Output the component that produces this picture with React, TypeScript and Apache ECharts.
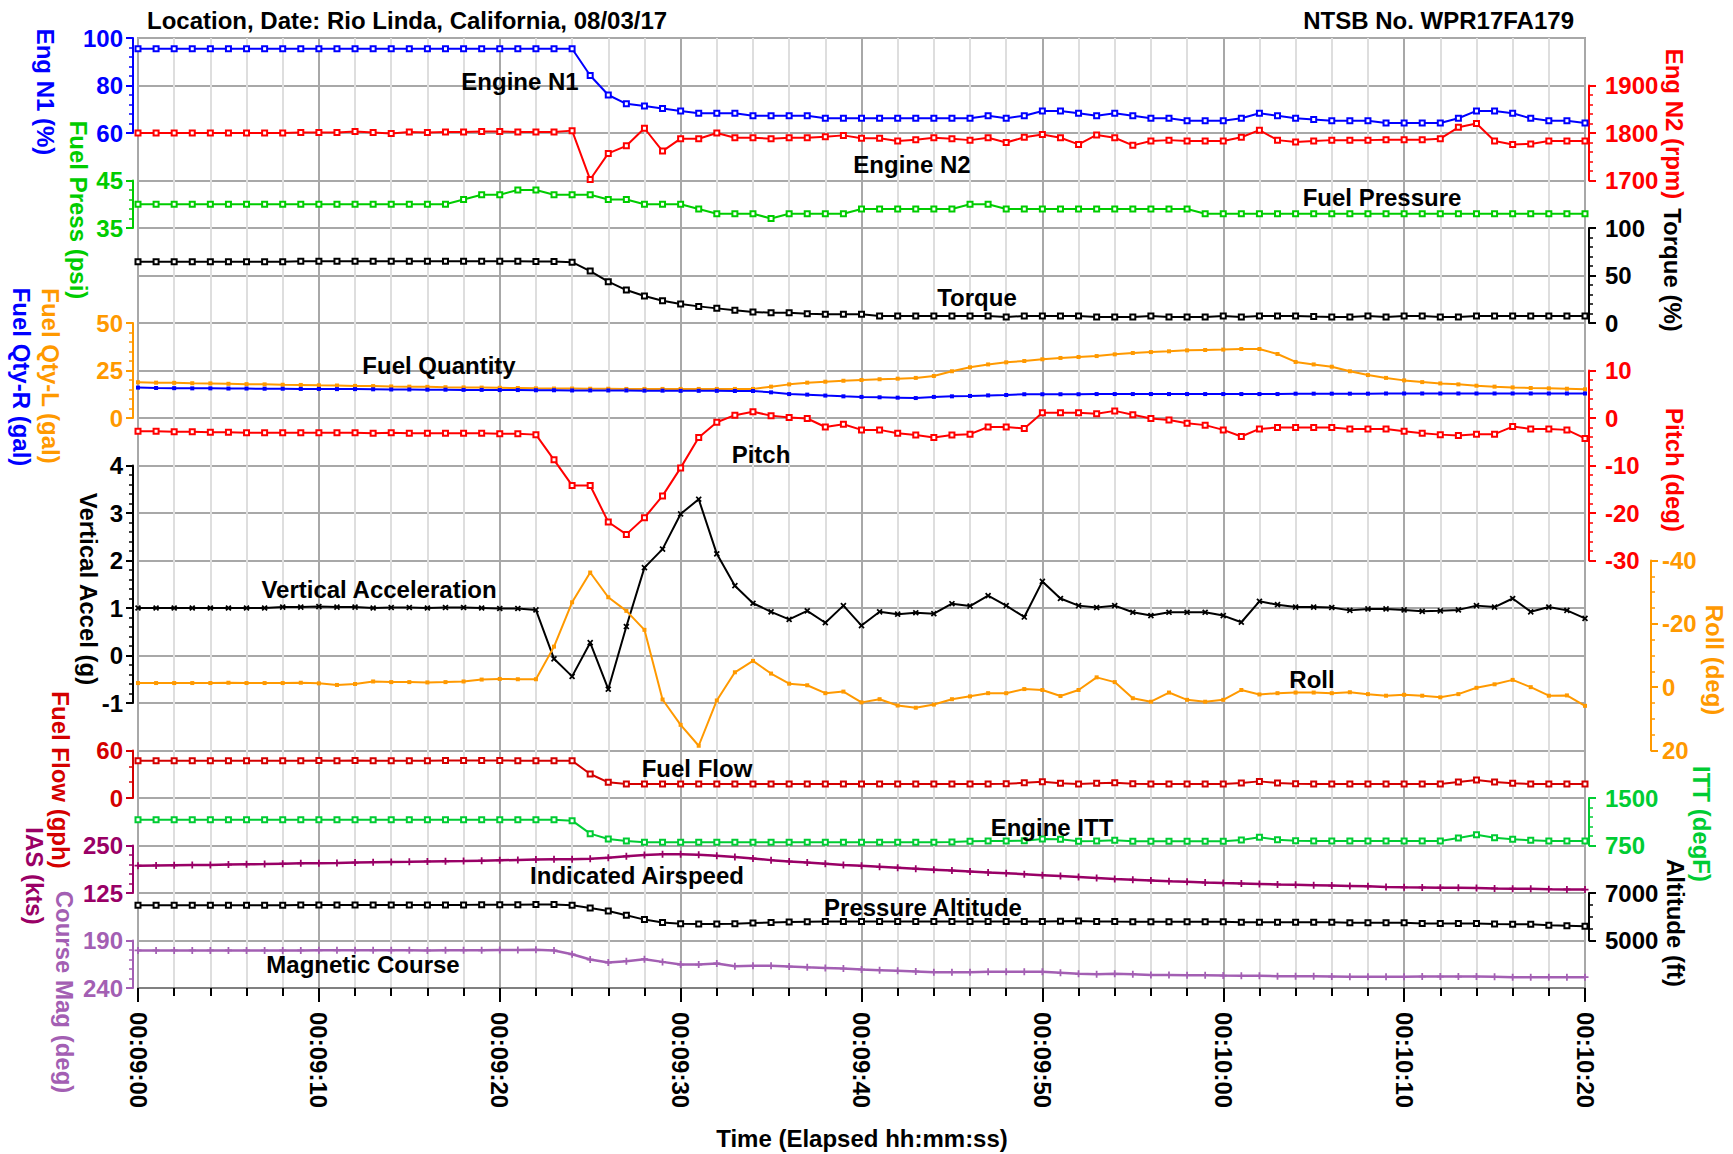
import React, { useEffect, useRef } from "react";
import * as echarts from "echarts";

const FONT = "'Liberation Sans', Arial, Helvetica, sans-serif";

// elapsed seconds after 00:09:00
const elapsedSeconds = [
  0, 1, 2, 3, 4, 5, 6, 7, 8, 9,
  10, 11, 12, 13, 14, 15, 16, 17, 18, 19,
  20, 21, 22, 23, 24, 25, 26, 27, 28, 29,
  30, 31, 32, 33, 34, 35, 36, 37, 38, 39,
  40, 41, 42, 43, 44, 45, 46, 47, 48, 49,
  50, 51, 52, 53, 54, 55, 56, 57, 58, 59,
  60, 61, 62, 63, 64, 65, 66, 67, 68, 69,
  70, 71, 72, 73, 74, 75, 76, 77, 78, 79,
  80,
];
const timeTickLabels = ["00:09:00", "00:09:10", "00:09:20", "00:09:30", "00:09:40", "00:09:50", "00:10:00", "00:10:10", "00:10:20"];

const engN1 = [
  95.5, 95.5, 95.5, 95.5, 95.5, 95.5, 95.5, 95.5, 95.5, 95.5,
  95.5, 95.5, 95.5, 95.5, 95.5, 95.5, 95.5, 95.5, 95.5, 95.5,
  95.5, 95.5, 95.5, 95.5, 95.5, 84.2, 76.0, 72.3, 71.4, 70.3,
  69.3, 68.3, 68.3, 68.3, 67.3, 67.3, 67.3, 67.3, 66.2, 66.2,
  66.2, 66.2, 66.2, 66.2, 66.2, 66.2, 66.2, 67.3, 66.2, 67.3,
  69.3, 69.3, 68.3, 67.3, 68.3, 67.3, 66.2, 66.2, 65.2, 65.2,
  65.2, 66.2, 68.3, 67.3, 66.2, 65.7, 65.2, 65.2, 65.2, 64.2,
  64.2, 64.2, 64.2, 66.2, 69.3, 69.3, 68.3, 66.2, 65.2, 65.2,
  64.2,
];
const engN2 = [
  1800, 1800, 1800, 1800, 1800, 1800, 1800, 1800, 1800, 1801,
  1801, 1801, 1803, 1801, 1799, 1802, 1801, 1802, 1802, 1803,
  1803, 1802, 1802, 1802, 1805, 1702, 1757, 1773, 1810, 1762,
  1788, 1788, 1800, 1790, 1790, 1788, 1790, 1790, 1792, 1795,
  1789, 1789, 1783, 1786, 1790, 1788, 1785, 1790, 1780, 1791,
  1797, 1790, 1776, 1796, 1790, 1774, 1783, 1785, 1783, 1783,
  1783, 1791, 1806, 1785, 1781, 1783, 1785, 1785, 1785, 1786,
  1786, 1786, 1788, 1812, 1820, 1783, 1776, 1777, 1783, 1783,
  1783,
];
const fuelPress = [
  40, 40, 40, 40, 40, 40, 40, 40, 40, 40,
  40, 40, 40, 40, 40, 40, 40, 40, 41, 42,
  42, 43, 43, 42, 42, 42, 41, 41, 40, 40,
  40, 39, 38, 38, 38, 37, 38, 38, 38, 38,
  39, 39, 39, 39, 39, 39, 40, 40, 39, 39,
  39, 39, 39, 39, 39, 39, 39, 39, 39, 38,
  38, 38, 38, 38, 38, 38, 38, 38, 38, 38,
  38, 38, 38, 38, 38, 38, 38, 38, 38, 38,
  38,
];
const torque = [
  64.5, 64.5, 64.5, 64.5, 64.5, 64.5, 64.5, 64.5, 64.5, 65.0,
  65.0, 65.0, 65.0, 65.0, 65.0, 65.0, 65.0, 65.0, 65.0, 65.0,
  65.0, 65.0, 64.8, 64.8, 64.0, 54.7, 43.5, 34.7, 28.4, 23.5,
  20.0, 17.5, 15.4, 13.3, 11.6, 10.9, 10.9, 9.8, 9.1, 9.1,
  9.1, 7.4, 7.4, 7.4, 7.4, 7.4, 7.4, 7.4, 6.3, 7.4,
  7.4, 7.4, 7.4, 6.3, 6.3, 6.3, 7.4, 6.3, 6.3, 6.3,
  7.4, 6.3, 7.4, 7.4, 7.4, 6.8, 6.3, 6.3, 7.4, 6.3,
  7.4, 7.4, 6.3, 6.3, 7.4, 7.4, 7.4, 7.4, 7.4, 7.4,
  7.4,
];
const fuelQtyL = [
  18.8, 18.6, 18.5, 18.3, 18.2, 18.0, 17.8, 17.7, 17.5, 17.4,
  17.2, 17.1, 16.9, 16.8, 16.6, 16.5, 16.4, 16.2, 16.1, 16.0,
  15.9, 15.8, 15.6, 15.5, 15.5, 15.4, 15.4, 15.3, 15.3, 15.3,
  15.3, 15.3, 15.3, 15.3, 15.3, 16.5, 17.7, 18.6, 19.1, 19.6,
  20.0, 20.4, 20.7, 21.1, 22.1, 24.6, 26.7, 28.2, 29.3, 30.0,
  30.9, 31.6, 32.1, 32.6, 33.5, 34.2, 34.7, 35.1, 35.6, 35.8,
  36.0, 36.3, 36.3, 33.7, 29.5, 28.2, 27.0, 24.6, 22.6, 21.1,
  19.8, 18.9, 18.2, 17.7, 17.0, 16.5, 16.1, 15.8, 15.6, 15.4,
  15.1,
];
const fuelQtyR = [
  16.0, 15.8, 15.7, 15.6, 15.6, 15.5, 15.5, 15.4, 15.4, 15.3,
  15.3, 15.2, 15.2, 15.1, 15.0, 15.0, 14.9, 14.9, 14.8, 14.8,
  14.7, 14.7, 14.6, 14.6, 14.5, 14.5, 14.5, 14.5, 14.4, 14.4,
  14.3, 14.3, 14.3, 14.2, 14.2, 13.5, 12.6, 12.3, 11.8, 11.4,
  11.1, 10.9, 10.7, 10.5, 11.1, 11.4, 11.6, 11.9, 12.1, 12.5,
  12.5, 12.5, 12.5, 12.6, 12.6, 12.6, 12.6, 12.6, 12.6, 12.6,
  12.6, 12.6, 12.6, 12.6, 12.8, 12.8, 12.8, 12.8, 12.8, 12.9,
  12.9, 12.9, 12.9, 12.9, 12.9, 12.9, 12.9, 12.9, 12.9, 12.9,
  12.9,
];
const pitch = [
  -2.8, -2.8, -2.9, -2.9, -3.0, -3.0, -3.1, -3.1, -3.1, -3.1,
  -3.1, -3.1, -3.1, -3.2, -3.1, -3.2, -3.2, -3.2, -3.2, -3.2,
  -3.3, -3.3, -3.5, -8.8, -14.2, -14.2, -21.9, -24.5, -21.0, -16.4,
  -10.5, -4.1, -0.9, 0.6, 1.3, 0.5, 0.1, -0.1, -1.9, -1.3,
  -2.5, -2.5, -3.2, -3.6, -4.1, -3.6, -3.4, -1.9, -1.9, -2.2,
  1.1, 1.1, 1.1, 0.9, 1.5, 0.7, -0.1, -0.4, -1.1, -1.5,
  -2.5, -3.9, -2.3, -2.0, -2.0, -2.0, -2.0, -2.3, -2.3, -2.3,
  -2.8, -3.2, -3.5, -3.7, -3.4, -3.4, -1.8, -2.3, -2.3, -2.5,
  -4.3,
];
const vertAccel = [
  1.0, 1.0, 1.0, 1.0, 1.0, 1.0, 1.0, 1.0, 1.02, 1.02,
  1.03, 1.02, 1.02, 1.0, 1.01, 1.01, 1.0, 1.01, 1.01, 1.0,
  0.99, 0.99, 0.96, -0.07, -0.44, 0.27, -0.71, 0.61, 1.85, 2.24,
  2.98, 3.29, 2.14, 1.47, 1.1, 0.92, 0.76, 0.94, 0.69, 1.05,
  0.63, 0.92, 0.87, 0.9, 0.88, 1.09, 1.04, 1.26, 1.05, 0.81,
  1.56, 1.2, 1.05, 1.01, 1.05, 0.91, 0.84, 0.91, 0.91, 0.91,
  0.84, 0.7, 1.14, 1.07, 1.02, 1.02, 1.01, 0.95, 0.98, 0.98,
  0.96, 0.93, 0.94, 0.96, 1.05, 1.02, 1.2, 0.92, 1.02, 0.95,
  0.78,
];
const roll = [
  -1.3, -1.3, -1.3, -1.3, -1.3, -1.4, -1.3, -1.3, -1.3, -1.4,
  -1.2, -0.7, -1.0, -1.8, -1.6, -1.6, -1.5, -1.6, -1.8, -2.4,
  -2.6, -2.5, -2.5, -12.8, -26.8, -36.2, -28.4, -24.1, -18.1, 3.9,
  11.9, 18.5, 4.2, -4.7, -8.3, -4.3, -1.1, -0.6, 1.9, 1.4,
  4.8, 3.8, 5.8, 6.5, 5.5, 3.8, 2.9, 1.9, 1.9, 0.6,
  0.9, 2.8, 0.9, -3.1, -1.6, 3.5, 4.6, 1.7, 4.0, 4.6,
  4.0, 0.9, 2.3, 1.9, 1.7, 1.7, 1.9, 1.6, 2.2, 2.7,
  2.4, 2.7, 3.2, 2.2, 0.2, -0.9, -2.3, 0.0, 2.7, 2.6,
  5.9,
];
const fuelFlow = [
  47.0, 47.0, 47.0, 47.0, 47.0, 47.0, 47.0, 47.0, 47.0, 47.0,
  47.5, 47.0, 47.5, 47.0, 47.0, 47.0, 47.0, 47.5, 47.5, 47.5,
  47.5, 47.0, 47.0, 47.0, 47.0, 30.3, 19.8, 17.7, 17.7, 17.7,
  17.7, 17.7, 17.7, 17.7, 17.7, 17.7, 17.7, 17.7, 17.7, 17.7,
  17.7, 17.7, 17.7, 17.7, 17.7, 17.7, 17.7, 17.7, 18.0, 19.2,
  20.6, 18.6, 17.7, 18.5, 19.4, 18.0, 17.7, 17.7, 17.7, 17.7,
  17.7, 19.0, 21.0, 19.0, 17.9, 17.7, 17.7, 17.7, 17.7, 17.7,
  17.7, 17.7, 17.7, 20.2, 22.7, 20.2, 18.6, 17.7, 17.7, 17.7,
  17.7,
];
const engineItt = [
  1155, 1155, 1155, 1155, 1155, 1155, 1155, 1155, 1155, 1155,
  1155, 1155, 1155, 1155, 1155, 1155, 1155, 1158, 1158, 1158,
  1158, 1158, 1158, 1158, 1142, 937, 853, 821, 800, 800,
  800, 800, 800, 800, 800, 800, 800, 800, 800, 800,
  800, 800, 800, 800, 800, 805, 816, 821, 821, 826,
  853, 847, 816, 821, 832, 816, 816, 816, 816, 816,
  816, 837, 879, 842, 826, 821, 821, 821, 821, 821,
  821, 821, 821, 868, 921, 874, 847, 832, 821, 821,
  821,
];
const airspeed = [
  197, 197.5, 198, 198.5, 199, 200, 200.5, 201, 202, 203,
  203.5, 204, 205, 206, 206.5, 207, 208, 208.5, 209, 210,
  211, 212, 213, 213.5, 214, 215, 218, 221.5, 225, 227,
  227, 225.5, 223, 220, 216, 211.5, 208, 205, 202, 199,
  196.5, 194, 191.5, 189, 186.5, 184, 181.5, 179, 177, 174.5,
  172, 169.5, 167, 164.5, 162, 160, 158, 156, 154.5, 152.5,
  151, 150, 149, 147.5, 146.5, 145.5, 144.5, 143.5, 142.5, 141,
  140, 139.5, 139, 138.5, 138, 137, 136.5, 136, 135, 134.5,
  134,
];
const altitude = [
  6480, 6480, 6480, 6480, 6480, 6480, 6480, 6480, 6480, 6490,
  6490, 6490, 6490, 6490, 6500, 6500, 6500, 6500, 6500, 6510,
  6510, 6510, 6520, 6520, 6480, 6370, 6240, 6060, 5880, 5760,
  5710, 5695, 5695, 5710, 5735, 5760, 5775, 5790, 5800, 5805,
  5805, 5805, 5805, 5805, 5805, 5805, 5805, 5805, 5805, 5805,
  5805, 5815, 5820, 5805, 5795, 5790, 5790, 5790, 5790, 5790,
  5790, 5765, 5765, 5765, 5765, 5765, 5765, 5750, 5750, 5750,
  5750, 5720, 5720, 5720, 5720, 5695, 5680, 5680, 5640, 5625,
  5600,
];
const magCourse = [
  200.5, 200.5, 200.5, 200.5, 200.5, 200.5, 200.5, 200.5, 200.5, 200.5,
  200.3, 200.3, 200.3, 200.3, 200.3, 200.3, 200.5, 200.3, 200.3, 200.3,
  200.0, 200.0, 199.8, 200.5, 204.5, 210.0, 213.2, 211.8, 209.7, 212.5,
  215.3, 215.3, 214.2, 217.0, 216.7, 216.7, 217.4, 218.2, 218.9, 219.6,
  220.5, 221.2, 221.9, 222.6, 223.3, 223.3, 223.3, 223.0, 223.0, 223.0,
  223.0, 224.0, 225.1, 225.5, 225.1, 225.5, 226.2, 226.2, 226.5, 226.5,
  226.9, 227.2, 227.2, 227.6, 227.6, 227.6, 227.9, 228.2, 228.2, 228.2,
  228.2, 227.9, 227.9, 227.9, 227.9, 228.2, 228.6, 228.6, 228.6, 228.6,
  228.6,
];

// colours
const BLUE = "#0000ff";
const RED = "#ff0000";
const GREEN = "#00cc00";
const ORANGE = "#ff9900";
const BLACK = "#000000";
const DARKRED = "#d40000";
const ITTGREEN = "#00cc33";
const PURPLE = "#990066";
const LPURPLE = "#a35fb3";

// layout
const PLOT_LEFT = 138;
const PLOT_TOP = 38;
const PLOT_W = 1447;
const ROW_H = 47.5;
const ROWS = 20;

const PLUS = "path://M3,0H5V3H8V5H5V8H3V5H0V3H3Z";

type Band = {
  key: string; side: "left" | "right"; top: number; bot: number;
  min: number; max: number; interval: number; minor: number; color: string;
  inverse?: boolean; offset?: number; margin?: number;
};

const bands: Band[] = [
  { key: "n1", side: "left", top: 0, bot: 2, min: 60, max: 100, interval: 20, minor: 5, color: BLUE },
  { key: "fp", side: "left", top: 3, bot: 4, min: 35, max: 45, interval: 10, minor: 5, color: GREEN },
  { key: "fq", side: "left", top: 6, bot: 8, min: 0, max: 50, interval: 25, minor: 5, color: ORANGE },
  { key: "va", side: "left", top: 9, bot: 14, min: -1, max: 4, interval: 1, minor: 5, color: BLACK },
  { key: "ff", side: "left", top: 15, bot: 16, min: 0, max: 60, interval: 60, minor: 3, color: DARKRED },
  { key: "ias", side: "left", top: 17, bot: 18, min: 125, max: 250, interval: 125, minor: 5, color: PURPLE },
  { key: "crs", side: "left", top: 19, bot: 20, min: 190, max: 240, interval: 50, minor: 5, color: LPURPLE, inverse: true },
  { key: "n2", side: "right", top: 1, bot: 3, min: 1700, max: 1900, interval: 100, minor: 5, color: RED },
  { key: "tq", side: "right", top: 4, bot: 6, min: 0, max: 100, interval: 50, minor: 5, color: BLACK },
  { key: "pitch", side: "right", top: 7, bot: 11, min: -30, max: 10, interval: 10, minor: 5, color: RED },
  { key: "roll", side: "right", top: 11, bot: 15, min: -40, max: 20, interval: 20, minor: 4, color: ORANGE, inverse: true, offset: 66, margin: 11 },
  { key: "itt", side: "right", top: 16, bot: 17, min: 750, max: 1500, interval: 750, minor: 5, color: ITTGREEN },
  { key: "alt", side: "right", top: 18, bot: 19, min: 5000, max: 7000, interval: 2000, minor: 4, color: BLACK },
];

type Trace = { band: string; data: number[]; color: string; symbol: string; size: number; rotate?: number; width?: number };
const traces: Trace[] = [
  { band: "n1", data: engN1, color: BLUE, symbol: "emptyRect", size: 5 },
  { band: "n2", data: engN2, color: RED, symbol: "emptyRect", size: 5 },
  { band: "fp", data: fuelPress, color: GREEN, symbol: "emptyRect", size: 5 },
  { band: "tq", data: torque, color: BLACK, symbol: "emptyRect", size: 5 },
  { band: "fq", data: fuelQtyL, color: ORANGE, symbol: "rect", size: 4 },
  { band: "fq", data: fuelQtyR, color: BLUE, symbol: "rect", size: 4 },
  { band: "pitch", data: pitch, color: RED, symbol: "emptyRect", size: 5 },
  { band: "va", data: vertAccel, color: BLACK, symbol: PLUS, size: 7, rotate: 45 },
  { band: "roll", data: roll, color: ORANGE, symbol: "rect", size: 4 },
  { band: "ff", data: fuelFlow, color: DARKRED, symbol: "emptyRect", size: 5 },
  { band: "itt", data: engineItt, color: ITTGREEN, symbol: "emptyRect", size: 5 },
  { band: "ias", data: airspeed, color: PURPLE, symbol: PLUS, size: 7, width: 2.5 },
  { band: "alt", data: altitude, color: BLACK, symbol: "emptyRect", size: 5 },
  { band: "crs", data: magCourse, color: LPURPLE, symbol: PLUS, size: 7, width: 2.5 },
];

const panelLabels = [
  { text: "Engine N1", x: 520, y: 81 },
  { text: "Engine N2", x: 912, y: 164 },
  { text: "Fuel Pressure", x: 1382, y: 197 },
  { text: "Torque", x: 977, y: 297 },
  { text: "Fuel Quantity", x: 439, y: 365 },
  { text: "Pitch", x: 761, y: 454 },
  { text: "Vertical Acceleration", x: 379, y: 589 },
  { text: "Roll", x: 1312, y: 679 },
  { text: "Fuel Flow", x: 697, y: 768 },
  { text: "Engine ITT", x: 1052, y: 827 },
  { text: "Indicated Airspeed", x: 637, y: 875 },
  { text: "Pressure Altitude", x: 923, y: 907 },
  { text: "Magnetic Course", x: 363, y: 964 },
];

const axisTitles = [
  { text: "Eng N1 (%)", x: 45, y: 92, color: BLUE },
  { text: "Fuel Press (psi)", x: 78, y: 210, color: GREEN },
  { text: "Fuel Qty-L (gal)", x: 50, y: 376, color: ORANGE },
  { text: "Fuel Qty-R (gal)", x: 21, y: 377, color: BLUE },
  { text: "Vertical Accel (g)", x: 88, y: 589, color: BLACK },
  { text: "Fuel Flow (gph)", x: 60, y: 780, color: DARKRED },
  { text: "IAS (kts)", x: 34, y: 876, color: PURPLE },
  { text: "Course Mag (deg)", x: 64, y: 992, color: LPURPLE },
  { text: "Eng N2 (rpm)", x: 1674, y: 124, color: RED },
  { text: "Torque (%)", x: 1672, y: 270, color: BLACK },
  { text: "Pitch (deg)", x: 1674, y: 470, color: RED },
  { text: "Roll (deg)", x: 1714, y: 660, color: ORANGE },
  { text: "ITT (degF)", x: 1701, y: 824, color: ITTGREEN },
  { text: "Altitude (ft)", x: 1675, y: 923, color: BLACK },
];

function txt(text: string, x: number, y: number, color: string, align = "center", rotation = 0) {
  return {
    type: "text", x, y, rotation, z: 100, silent: true,
    style: { text, fill: color, fontSize: 24, fontWeight: "bold", fontFamily: FONT, align, verticalAlign: "middle" },
  };
}

function buildOption() {
  const grids: any[] = [{
    left: PLOT_LEFT, top: PLOT_TOP, width: PLOT_W, height: ROW_H * ROWS,
    show: true, borderColor: "#a0a0a0", borderWidth: 2, backgroundColor: "#fff",
  }];
  const xAxes: any[] = [{
    gridIndex: 0, type: "value", min: 0, max: 80, interval: 10,
    axisLine: { show: true, onZero: false, lineStyle: { color: "#808080", width: 2 } },
    axisTick: { show: true, length: 14, lineStyle: { color: "#000", width: 2 } },
    minorTick: { show: true, splitNumber: 5, length: 8, lineStyle: { color: "#000", width: 2 } },
    splitLine: { show: true, lineStyle: { color: "#a8a8a8", width: 2 } },
    minorSplitLine: { show: true, lineStyle: { color: "#dedede", width: 2 } },
    axisLabel: {
      rotate: -90, margin: 24, fontSize: 24, fontWeight: "bold", fontFamily: FONT, color: "#000",
      formatter: (v: number) => timeTickLabels[Math.round(v / 10)] ?? "",
    },
  }];
  const yAxes: any[] = [{
    gridIndex: 0, type: "value", min: 0, max: ROWS, interval: 1,
    axisLine: { show: false }, axisTick: { show: false }, axisLabel: { show: false },
    splitLine: { show: true, lineStyle: { color: "#a8a8a8", width: 2 } },
  }];

  bands.forEach((b, i) => {
    const gi = i + 1;
    grids.push({ left: PLOT_LEFT, width: PLOT_W, top: PLOT_TOP + ROW_H * b.top, height: ROW_H * (b.bot - b.top) });
    xAxes.push({ gridIndex: gi, type: "value", min: 0, max: 80, show: false });
    yAxes.push({
      gridIndex: gi, type: "value", position: b.side, offset: b.offset ?? (b.side === "left" ? 5 : 4),
      min: b.min, max: b.max, interval: b.interval, inverse: !!b.inverse,
      axisLine: { show: true, onZero: false, lineStyle: { color: b.color, width: 2 } },
      axisTick: { show: true, length: 7, lineStyle: { color: b.color, width: 2 } },
      minorTick: { show: true, splitNumber: b.minor, length: 4, lineStyle: { color: b.color, width: 1.5 } },
      splitLine: { show: false },
      axisLabel: {
        color: b.color, fontSize: 24, fontWeight: "bold", fontFamily: FONT,
        margin: b.margin ?? (b.side === "left" ? 10 : 16),
        formatter: (v: number) => String(v),
      },
    });
  });

  const series = traces.map((t) => {
    const idx = bands.findIndex((b) => b.key === t.band) + 1;
    const empty = t.symbol.startsWith("empty");
    return {
      type: "line", xAxisIndex: idx, yAxisIndex: idx,
      data: elapsedSeconds.map((s, i) => [s, t.data[i]]),
      symbol: t.symbol, symbolSize: t.size, symbolRotate: t.rotate ?? 0, showSymbol: true,
      lineStyle: { color: t.color, width: t.width ?? 2 },
      itemStyle: { color: t.color, borderColor: t.color, borderWidth: empty ? 1.2 : 0 },
      z: 3, silent: true, clip: false,
    };
  });

  const graphics: any[] = [
    txt("Location, Date: Rio Linda, California, 08/03/17", 147, 20, "#000", "left"),
    txt("NTSB No. WPR17FA179", 1574, 20, "#000", "right"),
    txt("Time (Elapsed hh:mm:ss)", 862, 1138, "#000"),
    ...panelLabels.map((p) => txt(p.text, p.x, p.y, "#000")),
    ...axisTitles.map((a) => txt(a.text, a.x, a.y, a.color, "center", -Math.PI / 2)),
  ];

  return {
    animation: false,
    backgroundColor: "#ffffff",
    grid: grids,
    xAxis: xAxes,
    yAxis: yAxes,
    series,
    graphic: { elements: graphics },
  };
}

export default function App() {
  const ref = useRef<HTMLDivElement>(null);
  useEffect(() => {
    if (!ref.current) return;
    const chart = echarts.init(ref.current, null, { renderer: "svg" });
    chart.setOption(buildOption() as any);
    return () => chart.dispose();
  }, []);
  return (
    <div
      ref={ref}
      style={{ position: "absolute", left: 0, top: 0, width: 1733, height: 1154, background: "#fff" }}
    />
  );
}
